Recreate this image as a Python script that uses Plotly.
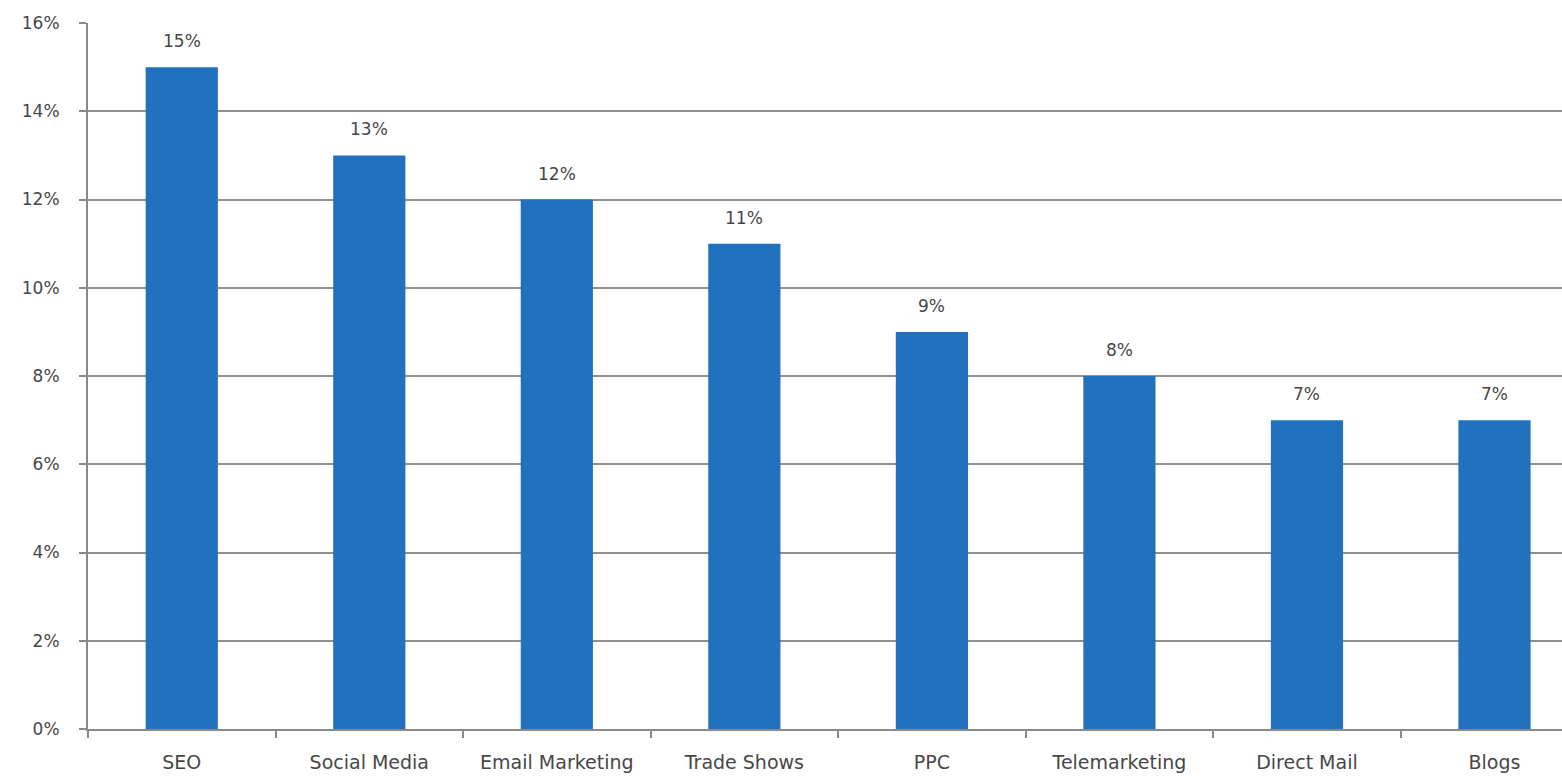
import plotly.graph_objects as go

categories = ["SEO", "Social Media", "Email Marketing", "Trade Shows", "PPC",
              "Telemarketing", "Direct Mail", "Blogs"]
values = [15, 13, 12, 11, 9, 8, 7, 7]
y_ticks = [0, 2, 4, 6, 8, 10, 12, 14, 16]
y_tick_labels = [f"{v}%" for v in y_ticks]

bar_color = "#2171BF"
text_color = "#474747"
font_family = "DejaVu Sans, Liberation Sans, Arial, sans-serif"

fig = go.Figure()
fig.add_trace(go.Bar(
    x=categories,
    y=values,
    marker=dict(color=bar_color, line=dict(width=0)),
    width=0.385,
    hoverinfo="x+y",
))

# value labels above each bar
for c, v in zip(categories, values):
    fig.add_annotation(
        x=c, y=v, text=f"{v}%", showarrow=False,
        yanchor="bottom", yshift=14,
        font=dict(size=17, color=text_color, family=font_family),
    )

fig.update_layout(
    width=1562, height=779,
    margin=dict(l=88, r=0, t=23, b=50),
    paper_bgcolor="white",
    plot_bgcolor="white",
    showlegend=False,
)

fig.update_xaxes(
    range=[-0.5, 7.36],
    showline=True, linecolor="#8a8a8a", linewidth=2,
    ticks="outside", tickson="boundaries", ticklen=7, tickcolor="#8a8a8a", tickwidth=1.5,
    ticklabelstandoff=15,
    tickfont=dict(size=19, color=text_color, family=font_family),
    showgrid=False,
)

fig.update_yaxes(
    range=[0, 16],
    tickvals=y_ticks, ticktext=y_tick_labels,
    showline=True, linecolor="#8a8a8a", linewidth=2,
    ticks="outside", ticklen=7, tickcolor="#8a8a8a", tickwidth=1.5,
    ticklabelstandoff=16,
    tickfont=dict(size=17, color=text_color, family=font_family),
    showgrid=True, gridcolor="#8f8f8f", gridwidth=1.5,
    zeroline=False,
)

fig.write_html("out.html")
